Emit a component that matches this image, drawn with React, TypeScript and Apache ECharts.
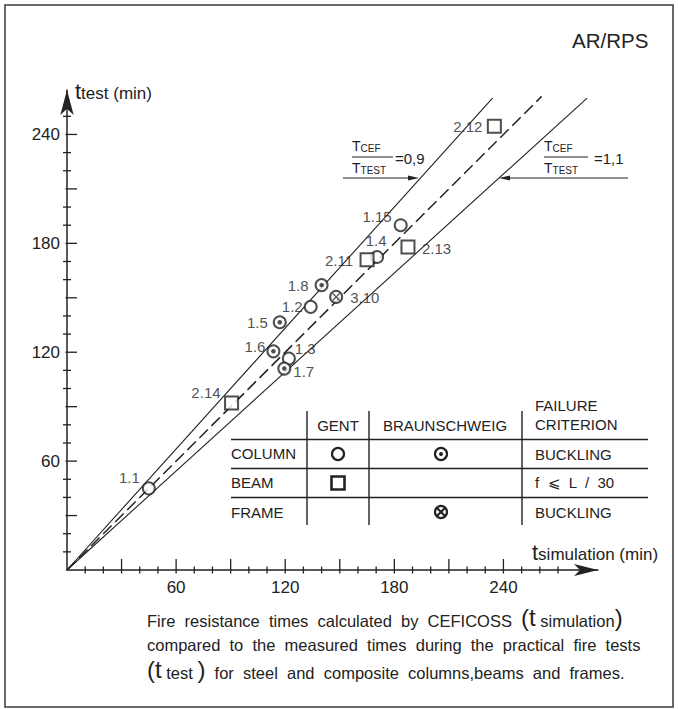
import React, { useEffect, useRef } from 'react';
import * as echarts from 'echarts';

// ---------- data ----------
// Columns tested in Gent (open circle)
const columnGentNames = ['1.1', '1.2', '1.3', '1.4', '1.15'];
const columnGentSim = [45, 134, 122, 170.5, 183.5];
const columnGentTest = [45, 145, 116.5, 172.5, 190];
// Columns tested in Braunschweig (circle with dot)
const columnBrNames = ['1.5', '1.6', '1.7', '1.8'];
const columnBrSim = [117, 113.5, 119.5, 140];
const columnBrTest = [136.5, 120.5, 111, 157];
// Beams tested in Gent (square)
const beamGentNames = ['2.11', '2.12', '2.13', '2.14'];
const beamGentSim = [165, 235, 187.5, 90.5];
const beamGentTest = [171, 244.5, 178, 92];
// Frames tested in Braunschweig (crossed circle)
const frameBrNames = ['3.10'];
const frameBrSim = [148];
const frameBrTest = [150.5];

// Reference lines  T_CEF / T_TEST = 0.9, 1.0, 1.1  ([t_simulation, t_test])
const lineRatio09 = [[0, 0], [234, 260]];
const lineRatio10 = [[0, 0], [261, 261]];
const lineRatio11 = [[0, 0], [286, 260]];

// Axes
const xTickValues = [10, 20, 30, 40, 50, 60, 70, 80, 90, 100, 110, 120, 130, 140, 150, 160, 170, 180, 190, 200, 210, 220, 230, 240, 250, 260, 270];
const yTickValues = [10, 20, 30, 40, 50, 60, 70, 80, 90, 100, 110, 120, 130, 140, 150, 160, 170, 180, 190, 200, 210, 220, 230, 240, 250];
const majorTickValues = [30, 60, 90, 120, 150, 180, 210, 240];
const axisLabelValues = [60, 120, 180, 240];

// ---------- styling ----------
const FONT = '"Liberation Sans", Arial, Helvetica, sans-serif';
const INK = '#222222';

// label placement relative to marker centre: [dx, dy, align]
const labelPlacement: Record<string, [number, number, string]> = {
  '1.1': [-9, -11, 'right'],
  '2.14': [-11, -11, 'right'],
  '1.6': [-8, -5, 'right'],
  '1.3': [6, -10, 'left'],
  '1.7': [9, 3, 'left'],
  '1.5': [-12, 0, 'right'],
  '1.2': [-8, 0, 'right'],
  '1.8': [-13, 0, 'right'],
  '3.10': [14, 1, 'left'],
  '2.11': [-14, 1, 'right'],
  '1.4': [-1, -16, 'center'],
  '1.15': [-9, -9, 'right'],
  '2.13': [14, 2, 'left'],
  '2.12': [-12, 0, 'right'],
};

const X_SYMBOL = 'path://M0,12 L12,0 L100,88 L88,100 Z M88,0 L100,12 L12,100 L0,88 Z';

function points(names: string[], xs: number[], ys: number[], withLabel: boolean) {
  return names.map((n, i) => {
    const p = labelPlacement[n] || [10, 0, 'left'];
    return {
      name: n,
      value: [xs[i], ys[i]],
      label: withLabel
        ? {
            show: true,
            position: 'inside',
            offset: [p[0], p[1]],
            align: p[2],
            verticalAlign: 'middle',
            formatter: n,
            color: INK,
            textBorderWidth: 0,
            textBorderColor: 'transparent',
            fontSize: 15,
            fontFamily: FONT,
          }
        : { show: false },
    };
  });
}

function txt(x: number, y: number, text: string, size = 15, align = 'left', extra: any = {}) {
  return {
    type: 'text',
    x,
    y,
    silent: true,
    z: 10,
    style: {
      text,
      fill: INK,
      fontSize: size,
      fontFamily: FONT,
      align,
      verticalAlign: 'middle',
      ...extra,
    },
  };
}

function richTxt(x: number, y: number, text: string, rich: any) {
  const r: any = {};
  Object.keys(rich).forEach((k) => {
    r[k] = { fill: INK, fontFamily: FONT, verticalAlign: 'bottom', ...rich[k] };
  });
  return {
    type: 'text',
    x,
    y,
    silent: true,
    z: 10,
    style: { text, rich: r, fill: INK, fontFamily: FONT, align: 'left', verticalAlign: 'middle' },
  };
}

function hline(x1: number, x2: number, y: number, w = 1.4) {
  return { type: 'line', silent: true, z: 10, shape: { x1, y1: y, x2, y2: y }, style: { stroke: INK, lineWidth: w } };
}
function vline(x: number, y1: number, y2: number, w = 1.4) {
  return { type: 'line', silent: true, z: 10, shape: { x1: x, y1, x2: x, y2 }, style: { stroke: INK, lineWidth: w } };
}

const fracRich = { T: { fontSize: 14 }, c: { fontSize: 10 } };
const capRich = { n: { fontSize: 16.5 }, p: { fontSize: 24 }, t: { fontSize: 24 } };

const graphics: any[] = [
  // frame
  { type: 'rect', silent: true, z: 0, shape: { x: 5, y: 5, width: 668, height: 702 }, style: { fill: 'none', stroke: '#3a3a3a', lineWidth: 1.5 } },
  txt(572, 40, 'AR/RPS', 20.5),
  // axis names
  richTxt(75, 91, '{t|t}{s|test (min)}', { t: { fontSize: 22 }, s: { fontSize: 17 } }),
  richTxt(532, 552, '{t|t}{s|simulation (min)}', { t: { fontSize: 22 }, s: { fontSize: 17 } }),
  // ratio annotations
  richTxt(352, 146, '{T|T}{c|CEF}', fracRich),
  hline(352, 393, 157, 1.2),
  richTxt(352, 168, '{T|T}{c|TEST}', fracRich),
  txt(395, 158, '=0,9', 15),
  hline(343, 412, 178, 1.1),
  { type: 'polygon', silent: true, z: 10, shape: { points: [[419, 178], [408, 175.5], [408, 180.5]] }, style: { fill: INK } },
  richTxt(544, 146, '{T|T}{c|CEF}', fracRich),
  hline(544, 588, 157, 1.2),
  richTxt(544, 168, '{T|T}{c|TEST}', fracRich),
  txt(594, 158, '=1,1', 15),
  hline(505, 628, 178, 1.1),
  { type: 'polygon', silent: true, z: 10, shape: { points: [[499, 178], [510, 175.5], [510, 180.5]] }, style: { fill: INK } },
  // table
  hline(231, 648, 439.5),
  hline(231, 648, 468.5),
  hline(231, 648, 497.5),
  vline(307, 411, 525),
  vline(369, 411, 525),
  vline(522, 411, 525),
  txt(338, 425, 'GENT', 15, 'center'),
  txt(445, 425, 'BRAUNSCHWEIG', 15, 'center'),
  txt(535, 405, 'FAILURE', 15),
  txt(535, 424, 'CRITERION', 15),
  txt(231, 453, 'COLUMN', 15),
  txt(231, 482, 'BEAM', 15),
  txt(231, 512, 'FRAME', 15),
  txt(535, 454, 'BUCKLING', 15),
  txt(535, 482, 'f  ⩽  L  /  30', 15),
  txt(535, 512, 'BUCKLING', 15),
  { type: 'circle', silent: true, z: 10, shape: { cx: 338, cy: 454, r: 6 }, style: { fill: '#fff', stroke: INK, lineWidth: 2.2 } },
  { type: 'rect', silent: true, z: 10, shape: { x: 331.5, y: 476.5, width: 13, height: 13 }, style: { fill: '#fff', stroke: INK, lineWidth: 2.6 } },
  { type: 'circle', silent: true, z: 10, shape: { cx: 441, cy: 454, r: 6 }, style: { fill: '#fff', stroke: INK, lineWidth: 2.2 } },
  { type: 'circle', silent: true, z: 11, shape: { cx: 441, cy: 454, r: 2 }, style: { fill: INK } },
  { type: 'circle', silent: true, z: 10, shape: { cx: 441, cy: 512, r: 6 }, style: { fill: '#fff', stroke: INK, lineWidth: 2.2 } },
  { type: 'line', silent: true, z: 11, shape: { x1: 437, y1: 508, x2: 445, y2: 516 }, style: { stroke: INK, lineWidth: 2.2 } },
  { type: 'line', silent: true, z: 11, shape: { x1: 445, y1: 508, x2: 437, y2: 516 }, style: { stroke: INK, lineWidth: 2.2 } },
  // caption
  richTxt(147, 617, '{n|Fire  resistance  times  calculated  by  CEFICOSS  }{p|(}{t|t}{n| simulation}{p|)}', capRich),
  txt(147, 645, 'compared  to  the  measured  times  during  the  practical  fire  tests', 16.5),
  richTxt(147, 669, '{p|(}{t|t}{n| test }{p|)}{n|  for  steel  and  composite  columns,beams  and  frames.}', capRich),
];

function buildOption() {
  const labelFmt = (v: number) => (axisLabelValues.indexOf(v) >= 0 ? String(v) : '');
  return {
    backgroundColor: '#ffffff',
    animation: false,
    grid: { left: 67, right: 80, top: 90, bottom: 139, containLabel: false, outerBoundsMode: 'none' },
    xAxis: {
      type: 'value',
      min: 0,
      max: 292,
      interval: 60,
      axisLine: { show: true, onZero: false, symbol: ['none', 'arrow'], symbolSize: [9, 24], lineStyle: { color: INK, width: 1.5 } },
      axisTick: { show: false },
      splitLine: { show: false },
      axisLabel: { formatter: labelFmt, fontSize: 17, color: INK, fontFamily: FONT, margin: 9, showMaxLabel: false, showMinLabel: false },
    },
    yAxis: {
      type: 'value',
      min: 0,
      max: 264.5,
      interval: 60,
      axisLine: { show: true, onZero: false, symbol: ['none', 'arrow'], symbolSize: [10, 25], lineStyle: { color: INK, width: 1.5 } },
      axisTick: { show: false },
      splitLine: { show: false },
      axisLabel: { formatter: labelFmt, fontSize: 17, color: INK, fontFamily: FONT, margin: 7, showMaxLabel: false, showMinLabel: false },
    },
    graphic: graphics,
    series: [
      {
        type: 'custom',
        name: 'x ticks',
        coordinateSystem: 'cartesian2d',
        silent: true,
        clip: false,
        z: 5,
        data: xTickValues.map((v) => [v, 0]),
        renderItem: (_p: any, api: any) => {
          const v = api.value(0);
          const c = api.coord([v, 0]);
          const long = majorTickValues.indexOf(v) >= 0;
          return { type: 'line', shape: { x1: c[0], y1: c[1] + 3.5, x2: c[0], y2: c[1] - (long ? 11 : 3.5) }, style: { stroke: INK, lineWidth: 1.3 } };
        },
      },
      {
        type: 'custom',
        name: 'y ticks',
        coordinateSystem: 'cartesian2d',
        silent: true,
        clip: false,
        z: 5,
        data: yTickValues.map((v) => [0, v]),
        renderItem: (_p: any, api: any) => {
          const v = api.value(1);
          const c = api.coord([0, v]);
          const long = majorTickValues.indexOf(v) >= 0;
          return { type: 'line', shape: { x1: c[0] - (long ? 1.5 : 4), y1: c[1], x2: c[0] + (long ? 10 : 4), y2: c[1] }, style: { stroke: INK, lineWidth: 1.3 } };
        },
      },
      {
        type: 'line', name: 'TCEF/TTEST = 0,9', data: lineRatio09, showSymbol: false, symbol: 'none', silent: true,
        lineStyle: { color: INK, width: 1.1 }, z: 2,
      },
      {
        type: 'line', name: 'TCEF/TTEST = 1', data: lineRatio10, showSymbol: false, symbol: 'none', silent: true,
        lineStyle: { color: INK, width: 1.5, type: [12, 5] }, z: 2,
      },
      {
        type: 'line', name: 'TCEF/TTEST = 1,1', data: lineRatio11, showSymbol: false, symbol: 'none', silent: true,
        lineStyle: { color: INK, width: 1.1 }, z: 2,
      },
      {
        type: 'scatter', name: 'Column – Gent', symbol: 'emptyCircle', symbolSize: 12, z: 4,
        itemStyle: { color: INK, borderWidth: 2.3 },
        data: points(columnGentNames, columnGentSim, columnGentTest, true),
      },
      {
        type: 'scatter', name: 'Column – Braunschweig', symbol: 'emptyCircle', symbolSize: 12, z: 4,
        itemStyle: { color: INK, borderWidth: 2.3 },
        data: points(columnBrNames, columnBrSim, columnBrTest, true),
      },
      {
        type: 'scatter', name: 'Column – Braunschweig (centre)', symbol: 'circle', symbolSize: 4.5, z: 5, silent: true,
        itemStyle: { color: INK },
        data: points(columnBrNames, columnBrSim, columnBrTest, false),
      },
      {
        type: 'scatter', name: 'Beam – Gent', symbol: 'emptyRect', symbolSize: 13, z: 4,
        itemStyle: { color: INK, borderWidth: 3 },
        data: points(beamGentNames, beamGentSim, beamGentTest, true),
      },
      {
        type: 'scatter', name: 'Frame – Braunschweig', symbol: 'emptyCircle', symbolSize: 12, z: 4,
        itemStyle: { color: INK, borderWidth: 2.3 },
        data: points(frameBrNames, frameBrSim, frameBrTest, true),
      },
      {
        type: 'scatter', name: 'Frame – Braunschweig (cross)', symbol: X_SYMBOL, symbolSize: 8, z: 5, silent: true,
        itemStyle: { color: INK },
        data: points(frameBrNames, frameBrSim, frameBrTest, false),
      },
    ],
  };
}

export default function App() {
  const ref = useRef<HTMLDivElement>(null);
  useEffect(() => {
    if (!ref.current) return;
    const chart = echarts.init(ref.current, null, { renderer: 'svg' });
    chart.setOption(buildOption() as any);
    return () => chart.dispose();
  }, []);
  return (
    <div
      ref={ref}
      style={{ position: 'absolute', left: 0, top: 0, width: 678, height: 709, background: '#fff' }}
    />
  );
}
